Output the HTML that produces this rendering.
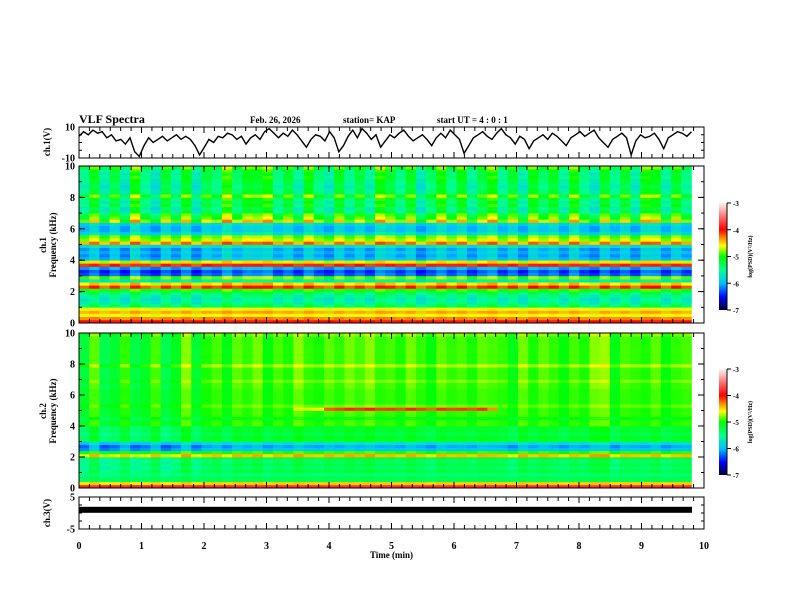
<!DOCTYPE html>
<html><head><meta charset="utf-8"><style>
body{margin:0;background:#fff}
svg{display:block}
text{font-family:"Liberation Serif",serif;font-weight:bold;fill:#000}
</style></head><body>
<svg id="c" width="792" height="612" viewBox="0 0 792 612" xmlns="http://www.w3.org/2000/svg">
<defs>
<linearGradient id="cb" x1="0" y1="1" x2="0" y2="0">
<stop offset="0" stop-color="#000030"/><stop offset="0.12" stop-color="#0000ff"/><stop offset="0.25" stop-color="#00c0ff"/>
<stop offset="0.37" stop-color="#00ff90"/><stop offset="0.5" stop-color="#00ff00"/><stop offset="0.6" stop-color="#ffff00"/>
<stop offset="0.68" stop-color="#ff8000"/><stop offset="0.75" stop-color="#ff0000"/><stop offset="0.87" stop-color="#ff7070"/><stop offset="1" stop-color="#fff4f4"/>
</linearGradient>
</defs>
<text x="79" y="123" font-size="12">VLF Spectra</text>
<text x="250" y="123" font-size="9">Feb. 26, 2026</text>
<text x="343" y="123" font-size="9">station= KAP</text>
<text x="437" y="123" font-size="9">start  UT =  4 : 0  : 1</text>
<g id="spec1"></g>
<g id="spec2"></g>
<g id="axes"></g>
</svg>
<script>
const timeTicks=[0,1,2,3,4,5,6,7,8,9,10];
const freqTicks=[0,2,4,6,8,10];
const cbTicks=[-3,-4,-5,-6,-7];
// log PSD per 0.2 kHz band, 0 -> 9.8 kHz
const ch1Bands=[-3.9,-4.3,-4.6,-4.4,-4.6,-5.3,-5.5,-5.6,-5.5,-5.3,-5.0,-4.1,-4.5,-5.6,-4.8,-6.2,-6.3,-6.0,-4.0,-4.6,-5.9,-6.0,-5.9,-6.0,-5.7,-4.3,-4.7,-4.8,-5.7,-5.9,-5.9,-5.8,-4.6,-4.9,-5.0,-5.3,-5.4,-5.2,-5.3,-5.2,-4.9,-5.3,-5.3,-5.4,-5.3,-5.3,-5.2,-5.3,-5.2,-5.0];
const ch2Bands=[-3.8,-4.5,-5.3,-5.3,-5.4,-5.3,-5.4,-5.3,-5.4,-5.3,-4.5,-5.0,-6.0,-6.1,-5.8,-5.2,-5.2,-5.3,-5.2,-5.2,-5.0,-5.0,-5.1,-5.0,-5.0,-5.0,-4.9,-5.0,-5.0,-5.0,-5.0,-5.0,-5.0,-5.0,-4.9,-5.0,-5.0,-5.0,-5.0,-4.8,-5.0,-5.0,-5.0,-5.0,-5.0,-5.0,-5.0,-5.0,-5.0,-4.9];
// per 10 s column modulation (60 columns)
const ch1Cols=[-0.5,0.3,-0.7,0.1,-0.8,0.6,-0.4,-0.9,0.2,-0.6,0.4,-0.8,0.1,-0.3,0.7,-0.2,0.4,0.3,0.6,-0.4,0.2,-0.6,0.5,-0.3,-0.7,0.3,-0.5,0.1,-0.6,0.6,0.2,-0.4,0.3,-0.8,-0.2,0.5,-0.3,0.4,-0.6,0.1,0.6,-0.5,0.2,-0.7,0.4,-0.2,0.3,-0.6,0.5,-0.4,-0.8,0.3,-0.5,0.2,-0.7,0.5,0.4,-0.6,0.3,-0.4];
const ch2Cols=[-0.6,0.4,-0.8,-0.5,0.2,-0.7,-0.4,0.3,-0.8,-0.3,0.6,-0.5,0.1,0.3,-0.2,0.4,0.2,0.5,-0.1,0.3,0.1,0.6,0.2,0.1,0.4,0.2,0.5,0.3,0.6,0.2,0.3,0.1,0.5,0.2,-0.1,0.4,0.2,0.3,0.1,0.4,0.3,0.2,-0.2,0.5,0.1,0.4,0.2,-0.1,0.3,0.1,0.6,0.7,-0.2,0.3,0.2,0.1,0.4,-0.1,0.2,0.3];
// 5 kHz emission in ch2 (per column extra level)
const ch2Event5k=[0,0,0,0,0,0,0,0,0,0,0,0,0,0,0,0,0,0,0,0,0,0.2,0.3,0.4,0.7,0.8,0.8,0.8,0.8,0.8,0.8,0.8,0.8,0.8,0.8,0.8,0.8,0.8,0.8,0.8,0.6,0,0,0,0,0,0,0,0,0,0,0,0,0,0,0,0,0,0,0];
// ch1 waveform (V), samples over 0-9.8 min
const ch1Wave=[4,7,5,8,6,7,3,5,1,2,-1,3,-6,-9,-2,3,0,2,4,1,3,5,2,4,2,-2,-8,-3,2,0,4,3,6,5,2,4,-1,3,5,2,7,9,6,3,6,4,8,5,1,-3,2,5,4,1,7,3,-6,-2,4,8,3,9,6,2,5,-3,1,5,3,6,8,4,1,3,5,2,-2,3,6,3,8,5,2,-7,-2,3,5,7,4,2,6,9,5,3,-1,4,2,-4,1,3,5,2,6,4,1,-2,3,5,7,4,6,8,3,0,-3,2,4,6,3,-8,1,5,3,4,6,2,-4,3,5,7,6,4,7];
const ch3Level=[1,1,1,1,1,1,1,1,1,1];

const NS='http://www.w3.org/2000/svg';
const X0=79,X1=704;
const xs=t=>X0+(X1-X0)*t/10;
function el(tag,attrs,parent){const e=document.createElementNS(NS,tag);for(const k in attrs)e.setAttribute(k,attrs[k]);parent.appendChild(e);return e;}
const stops=[[-7,[0,0,48]],[-6.5,[0,0,255]],[-6,[0,192,255]],[-5.5,[0,255,144]],[-5,[0,255,0]],[-4.6,[255,255,0]],[-4.3,[255,128,0]],[-4,[255,0,0]],[-3.5,[255,112,112]],[-3,[255,244,244]]];
function cmap(v){v=Math.max(-7,Math.min(-3,v));for(let i=1;i<stops.length;i++){if(v<=stops[i][0]){const a=stops[i-1],b=stops[i],f=(v-a[0])/(b[0]-a[0]);return 'rgb('+a[1].map((c,k)=>Math.round(c+(b[1][k]-c)*f)).join(',')+')';}}return 'rgb(255,244,244)';}
const axes=document.getElementById('axes');

function spectro(g,bands,cols,yTop,yBot,evt,wHi){
  const nb=bands.length,nc=cols.length,bh=(yBot-yTop)/nb,cw=(xs(9.8)-X0)/nc;
  for(let j=0;j<nb;j++){const f=j*0.2;const w=f<1?0.08:(f<6.4?0.25:wHi);
    for(let i=0;i<nc;i++){let v=bands[j]+cols[i]*w;if(evt&&j===25)v+=evt[i];
      const r=el('rect',{x:(X0+i*cw).toFixed(2),y:(yBot-(j+1)*bh).toFixed(2),width:(cw+0.3).toFixed(2),height:(bh+0.3).toFixed(2),fill:cmap(v)},g);
      
      }}
}
spectro(document.getElementById('spec1'),ch1Bands,ch1Cols,166,323,null,0.5);
spectro(document.getElementById('spec2'),ch2Bands,ch2Cols,333,488,ch2Event5k,0.35);

function frame(yTop,yBot,name){
  const r=el('rect',{x:X0,y:yTop,width:X1-X0,height:yBot-yTop,fill:'none',stroke:'#000','stroke-width':1},axes);
  
  for(let k=0;k<=60;k++){const x=xs(k/6),L=(k%6===0)?6:4;
    el('line',{x1:x,x2:x,y1:yTop,y2:yTop+L,stroke:'#000'},axes);
    el('line',{x1:x,x2:x,y1:yBot,y2:yBot-L,stroke:'#000'},axes);}
}
function yTicksLeft(yTop,yBot,vmin,vmax,labels,minorStep){
  const ys=v=>yBot-(v-vmin)/(vmax-vmin)*(yBot-yTop);
  for(let v=vmin;v<=vmax+1e-9;v+=minorStep){el('line',{x1:X0,x2:X0+3,y1:ys(v),y2:ys(v),stroke:'#000'},axes);el('line',{x1:X1,x2:X1-3,y1:ys(v),y2:ys(v),stroke:'#000'},axes);}
  labels.forEach(v=>{el('line',{x1:X0,x2:X0+6,y1:ys(v),y2:ys(v),stroke:'#000'},axes);el('line',{x1:X1,x2:X1-6,y1:ys(v),y2:ys(v),stroke:'#000'},axes);
    const t=el('text',{x:X0-4,y:ys(v)+3.5,'font-size':10,'text-anchor':'end'},axes);t.textContent=v;
    });
  return ys;
}
function vlabel(x,y,lines,name){const t=el('text',{transform:`translate(${x},${y}) rotate(-90)`,'font-size':9,'text-anchor':'middle'},axes);
  lines.forEach((s,i)=>{const ts=el('tspan',{x:0,dy:i?10:0},t);ts.textContent=s;});
  }

frame(127,158,'ch1-waveform-frame');
const y1=yTicksLeft(127,158,-10,10,[10,-10],5);
const pts=ch1Wave.map((v,i)=>xs(i*9.8/(ch1Wave.length-1)).toFixed(1)+','+y1(v).toFixed(1)).join(' ');
const pl=el('polyline',{points:pts,fill:'none',stroke:'#000','stroke-width':1.4},axes);

vlabel(50,142,['ch.1(V)'],'ch1-y-axis-title');

frame(166,323,'ch1-spectrogram-frame');
yTicksLeft(166,323,0,10,freqTicks,1);
vlabel(46,245,['ch.1','Frequency  (kHz)'],'ch1-freq-axis-title');
frame(333,488,'ch2-spectrogram-frame');
yTicksLeft(333,488,0,10,freqTicks,1);
vlabel(46,411,['ch.2','Frequency  (kHz)'],'ch2-freq-axis-title');

frame(497,529,'ch3-frame');
const y3=yTicksLeft(497,529,-5,5,[5,-5],2.5);
ch3Level.forEach((v,i)=>{const b=el('rect',{x:xs(i*0.98),y:y3(v)-3,width:xs(0.98)-X0+0.5,height:6,fill:'#000'},axes);
  });
vlabel(50,513,['ch.3(V)'],'ch3-y-axis-title');

timeTicks.forEach(v=>{const t=el('text',{x:xs(v),y:549,'font-size':10,'text-anchor':'middle'},axes);t.textContent=v;
  });
const xt=el('text',{x:xs(5),y:558,'font-size':9,'text-anchor':'middle'},axes);xt.textContent='Time  (min)';


function colorbar(yTop,yBot,name){
  const r=el('rect',{x:719,y:yTop,width:8,height:yBot-yTop,fill:'url(#cb)'},axes);
  
  const ys=v=>yBot-(v+7)/4*(yBot-yTop);
  cbTicks.forEach(v=>{el('line',{x1:727,x2:731,y1:ys(v),y2:ys(v),stroke:'#000'},axes);
    const t=el('text',{x:733,y:ys(v)+3,'font-size':7},axes);t.textContent=v;
    });
  el('line',{x1:727,x2:727,y1:yTop,y2:yBot,stroke:'#000'},axes);
  const t=el('text',{transform:`translate(752,${(yTop+yBot)/2}) rotate(-90)`,'font-size':6,'text-anchor':'middle'},axes);
  t.textContent='log(PSD)(V\u00B2/Hz)';
}
colorbar(203,310,'ch1-colorbar');
colorbar(369,475,'ch2-colorbar');
</script>
</body></html>
